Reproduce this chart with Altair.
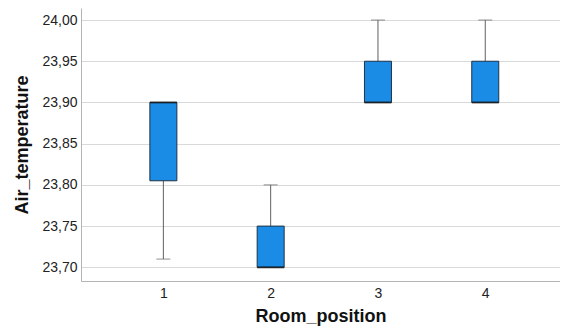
import altair as alt
import pandas as pd

positions = [1, 2, 3, 4]
lower = [23.71, 23.70, 23.90, 23.90]
q1 = [23.805, 23.70, 23.90, 23.90]
median = [23.90, 23.70, 23.90, 23.90]
q3 = [23.90, 23.75, 23.95, 23.95]
upper = [23.90, 23.80, 24.00, 24.00]
y_ticks = [23.70, 23.75, 23.80, 23.85, 23.90, 23.95, 24.00]

df = pd.DataFrame({"pos": positions, "lower": lower, "q1": q1,
                   "median": median, "q3": q3, "upper": upper})

FONT = "Liberation Sans"
xscale = alt.Scale(domain=[0.279, 4.650], nice=False, zero=False)
yscale = alt.Scale(domain=[23.6834, 24.0146], nice=False, zero=False)

xenc = alt.X("pos:Q", scale=xscale,
             axis=alt.Axis(title="Room_position", values=positions, labelExpr="format(datum.value, 'd')",
                           grid=False, ticks=False, domainColor="#b4b4b4", labelPadding=5,
                           labelFontSize=14, labelColor="#222", titleFontSize=18, titleFontWeight="bold",
                           titleColor="#111", titlePadding=7, labelFont=FONT, titleFont=FONT))

base = alt.Chart(df)

whisk_lo = base.mark_rule(color="#606060", strokeWidth=1).encode(
    x=xenc,
    y=alt.Y("lower:Q", scale=yscale,
            axis=alt.Axis(title="Air_temperature", values=y_ticks,
                          labelExpr="replace(format(datum.value, '.2f'), '.', ',')",
                          grid=True, gridColor="#d9d9d9", ticks=False, domainColor="#b4b4b4",
                          labelPadding=4, labelFontSize=14, labelColor="#222", titleFontSize=18,
                          titleFontWeight="bold", titleColor="#111", titlePadding=10,
                          labelFont=FONT, titleFont=FONT)),
    y2="q1:Q")
whisk_hi = base.mark_rule(color="#606060", strokeWidth=1).encode(x="pos:Q", y="q3:Q", y2="upper:Q")
cap_lo = base.mark_tick(color="#606060", thickness=1, size=14, orient="horizontal").encode(x="pos:Q", y="lower:Q")
cap_hi = base.mark_tick(color="#606060", thickness=1, size=14, orient="horizontal").encode(x="pos:Q", y="upper:Q")
box = base.mark_bar(size=27, color="#1a8ce6", stroke="#1e3347", strokeWidth=1).encode(
    x="pos:Q", y="q1:Q", y2="q3:Q")
med = base.mark_tick(color="#151515", thickness=2, size=27, orient="horizontal").encode(x="pos:Q", y="median:Q")

chart = alt.layer(whisk_lo, whisk_hi, cap_lo, cap_hi, box, med).properties(
    width=479, height=273,
    autosize=alt.AutoSizeParams(type="none"),
    padding={"left": 73, "top": 0, "right": 0, "bottom": 45},
    background="white",
).configure_view(stroke=None)

chart.save("out.html", embed_options={"renderer": "svg", "actions": False})
